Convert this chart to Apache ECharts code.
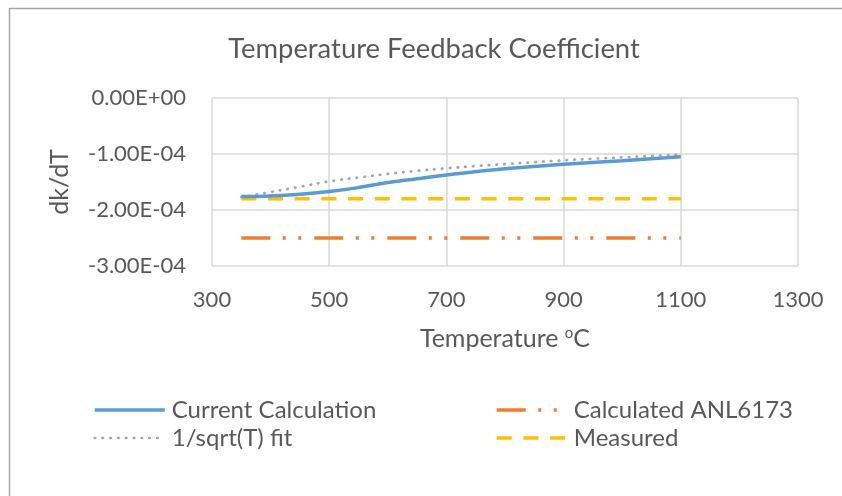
<!DOCTYPE html>
<html>
<head>
<meta charset="utf-8">
<script src="https://cdn.jsdelivr.net/npm/echarts@6/dist/echarts.min.js"></script>
<style>
  html, body { margin: 0; padding: 0; background: #fff; }
  #chart { width: 842px; height: 496px; }
</style>
</head>
<body>
<div id="chart"></div>
<script>
// values
const currentT = [350, 400, 450, 500, 550, 600, 650, 700, 800, 900, 1000, 1100];
const currentK = [-1.76e-4, -1.75e-4, -1.72e-4, -1.67e-4, -1.60e-4, -1.51e-4, -1.44e-4, -1.375e-4, -1.265e-4, -1.185e-4, -1.12e-4, -1.05e-4];
const fitT = [350, 400, 450, 500, 550, 600, 650, 700, 750, 800, 850, 900, 950, 1000, 1050, 1100];
const fitK = [-1.77e-4, -1.68e-4, -1.585e-4, -1.49e-4, -1.42e-4, -1.355e-4, -1.30e-4, -1.255e-4, -1.215e-4, -1.18e-4, -1.145e-4, -1.113e-4, -1.085e-4, -1.06e-4, -1.035e-4, -1.012e-4];
const anlT = [350, 1100];
const anlK = [-2.5e-4, -2.5e-4];
const measT = [350, 1100];
const measK = [-1.8e-4, -1.8e-4];

const textColor = "#595959";
const font = "Lato";

function pairs(xs, ys) {
  return xs.map((x, i) => [x, ys[i]]);
}

// Excel-style scientific label: 0.00E+00, -1.00E-04
function sci(v) {
  if (v === 0) return "0.00E+00";
  const s = v.toExponential(2).split("e");
  const e = parseInt(s[1], 10);
  const ee = (e < 0 ? "-" : "+") + String(Math.abs(e)).padStart(2, "0");
  return s[0] + "E" + ee;
}

const blueLine = { color: "#5b9bd5", width: 3.5 };
const orangeLine = { color: "#ed7d31", width: 3.5, type: [29, 12.5, 3, 12.5, 3, 13], cap: "butt" };
const grayLine = { color: "#a5a5a5", width: 2.7, type: [0.5, 7.3], cap: "round" };
const yellowLine = { color: "#ffc000", width: 3.5, type: [15, 11.7], cap: "butt" };

const legendBase = {
  orient: "vertical",
  top: 398,
  padding: 0,
  itemWidth: 70,
  itemHeight: 14,
  itemGap: 4,
  itemStyle: { opacity: 0 },
  textStyle: { color: textColor, fontFamily: font, fontSize: 24, padding: [0, 0, 0, 2] }
};

const option = {
  animation: false,
  backgroundColor: "#fff",
  title: {
    text: "Temperature Feedback Coefficient",
    left: 429,
    top: 31,
    textAlign: "center",
    textStyle: { color: textColor, fontFamily: font, fontSize: 27.4, fontWeight: "normal" }
  },
  graphic: [
    {
      type: "rect",
      shape: { x: 9.5, y: 8.5, width: 900, height: 600 },
      style: { fill: "none", stroke: "#a6a6a6", lineWidth: 1.5 },
      silent: true
    }
  ],
  grid: { left: 212, right: 44, top: 98, bottom: 230 },
  legend: [
    Object.assign({}, legendBase, {
      left: 93,
      data: [
        { name: "Current Calculation", lineStyle: blueLine },
        { name: "1/sqrt(T) fit", lineStyle: grayLine }
      ]
    }),
    Object.assign({}, legendBase, {
      left: 495,
      data: [
        { name: "Calculated ANL6173", lineStyle: orangeLine },
        { name: "Measured", lineStyle: yellowLine }
      ]
    })
  ],
  xAxis: {
    type: "value",
    min: 300,
    max: 1300,
    interval: 200,
    name: "Temperature {sup|o}C",
    nameLocation: "middle",
    nameGap: 60,
    nameTextStyle: {
      color: textColor,
      fontFamily: font,
      fontSize: 25,
      rich: {
        sup: { color: textColor, fontFamily: font, fontSize: 15, verticalAlign: "top", padding: [0, 0, 9, 0] }
      }
    },
    axisLine: { show: false },
    axisTick: { show: false },
    axisLabel: { color: textColor, fontFamily: font, fontSize: 22, margin: 23, formatter: (v) => String(v) },
    splitLine: { show: true, lineStyle: { color: "#d9d9d9", width: 1.5 } }
  },
  yAxis: {
    type: "value",
    min: -3e-4,
    max: 0,
    interval: 1e-4,
    name: "dk/dT",
    nameLocation: "middle",
    nameGap: 140,
    nameTextStyle: { color: textColor, fontFamily: font, fontSize: 25 },
    axisLine: { show: false },
    axisTick: { show: false },
    axisLabel: { color: textColor, fontFamily: font, fontSize: 22, margin: 26, formatter: sci },
    splitLine: { show: true, lineStyle: { color: "#d9d9d9", width: 1.5 } }
  },
  series: [
    {
      name: "Current Calculation",
      type: "line",
      smooth: true,
      symbol: "none",
      lineStyle: blueLine,
      itemStyle: { color: "#5b9bd5" },
      data: pairs(currentT, currentK),
      z: 4
    },
    {
      name: "Calculated ANL6173",
      type: "line",
      symbol: "none",
      lineStyle: orangeLine,
      itemStyle: { color: "#ed7d31" },
      data: pairs(anlT, anlK),
      z: 2
    },
    {
      name: "1/sqrt(T) fit",
      type: "line",
      smooth: true,
      symbol: "none",
      lineStyle: grayLine,
      itemStyle: { color: "#a5a5a5" },
      data: pairs(fitT, fitK),
      z: 3
    },
    {
      name: "Measured",
      type: "line",
      symbol: "none",
      lineStyle: yellowLine,
      itemStyle: { color: "#ffc000" },
      data: pairs(measT, measK),
      z: 2
    }
  ]
};

const myChart = echarts.init(document.getElementById("chart"));
myChart.setOption(option);
</script>
</body>
</html>
